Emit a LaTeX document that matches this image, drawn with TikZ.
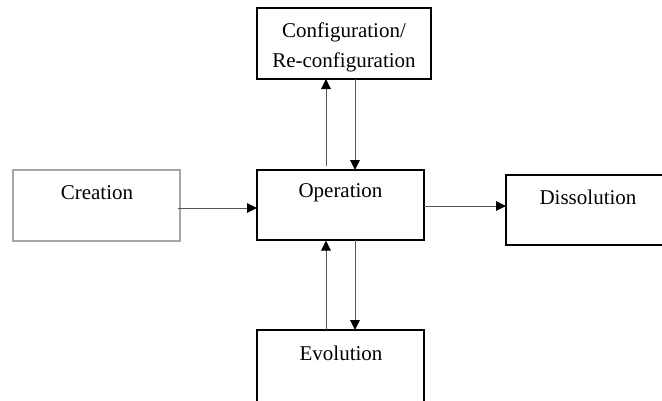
\documentclass[tikz,border=0pt]{standalone}
\usepackage{fontspec}
\setmainfont{Liberation Serif}
\usetikzlibrary{arrows.meta}
\definecolor{boxgray}{RGB}{165,165,165}
\definecolor{linegray}{RGB}{85,85,85}
\tikzset{
  box/.style={draw=black, line width=1.5pt},
  graybox/.style={draw=boxgray, line width=1.5pt},
  lbl/.style={font=\fontsize{21}{30}\selectfont, align=center, inner sep=0pt, text=black},
  arr/.style={draw=linegray, line width=1pt, -{Triangle[length=10pt,width=9.5pt,color=black]}}
}
\begin{document}
\begin{tikzpicture}[x=1pt,y=-1pt]
\useasboundingbox (0,0) rectangle (662,400);
\clip (0,0) rectangle (662,400);
\fill[white] (0,0) rectangle (662,400);
% boxes
\draw[graybox] (13,170) rectangle (180,241);
\draw[box] (257,8) rectangle (431,79);
\draw[box] (257,170) rectangle (424,240);
\draw[box] (257,330) rectangle (424,430);
\draw[box] (506,175) rectangle (690,245);
% text
\node[lbl] (crea) at (97,193) {Creation};
\node[lbl] (cfg) at (344,47) {Configuration/\\Re-configuration};
\node[lbl] (op) at (340.5,193) {Operation};
\node[lbl] (evo) at (341,353) {Evolution};
\node[lbl] (diss) at (588,197) {Dissolution};
% anchor coordinates on box edges
\coordinate (creaE) at (178,208);
\coordinate (opW) at (257,208);
\coordinate (opE) at (424,206);
\coordinate (dissW) at (506,206);
\coordinate (opNup) at (326,166);
\coordinate (cfgSup) at (326,79);
\coordinate (cfgSdn) at (355,79);
\coordinate (opNdn) at (355,170);
\coordinate (evoNup) at (326,330);
\coordinate (opSup) at (326,240.5);
\coordinate (opSdn) at (355,240);
\coordinate (evoNdn) at (355,330);
% connectors
\draw[arr] (creaE) -- (opW);
\draw[arr] (opE) -- (dissW);
\draw[arr] (opNup) -- (cfgSup);
\draw[arr] (cfgSdn) -- (opNdn);
\draw[arr] (evoNup) -- (opSup);
\draw[arr] (opSdn) -- (evoNdn);
\end{tikzpicture}
\end{document}
